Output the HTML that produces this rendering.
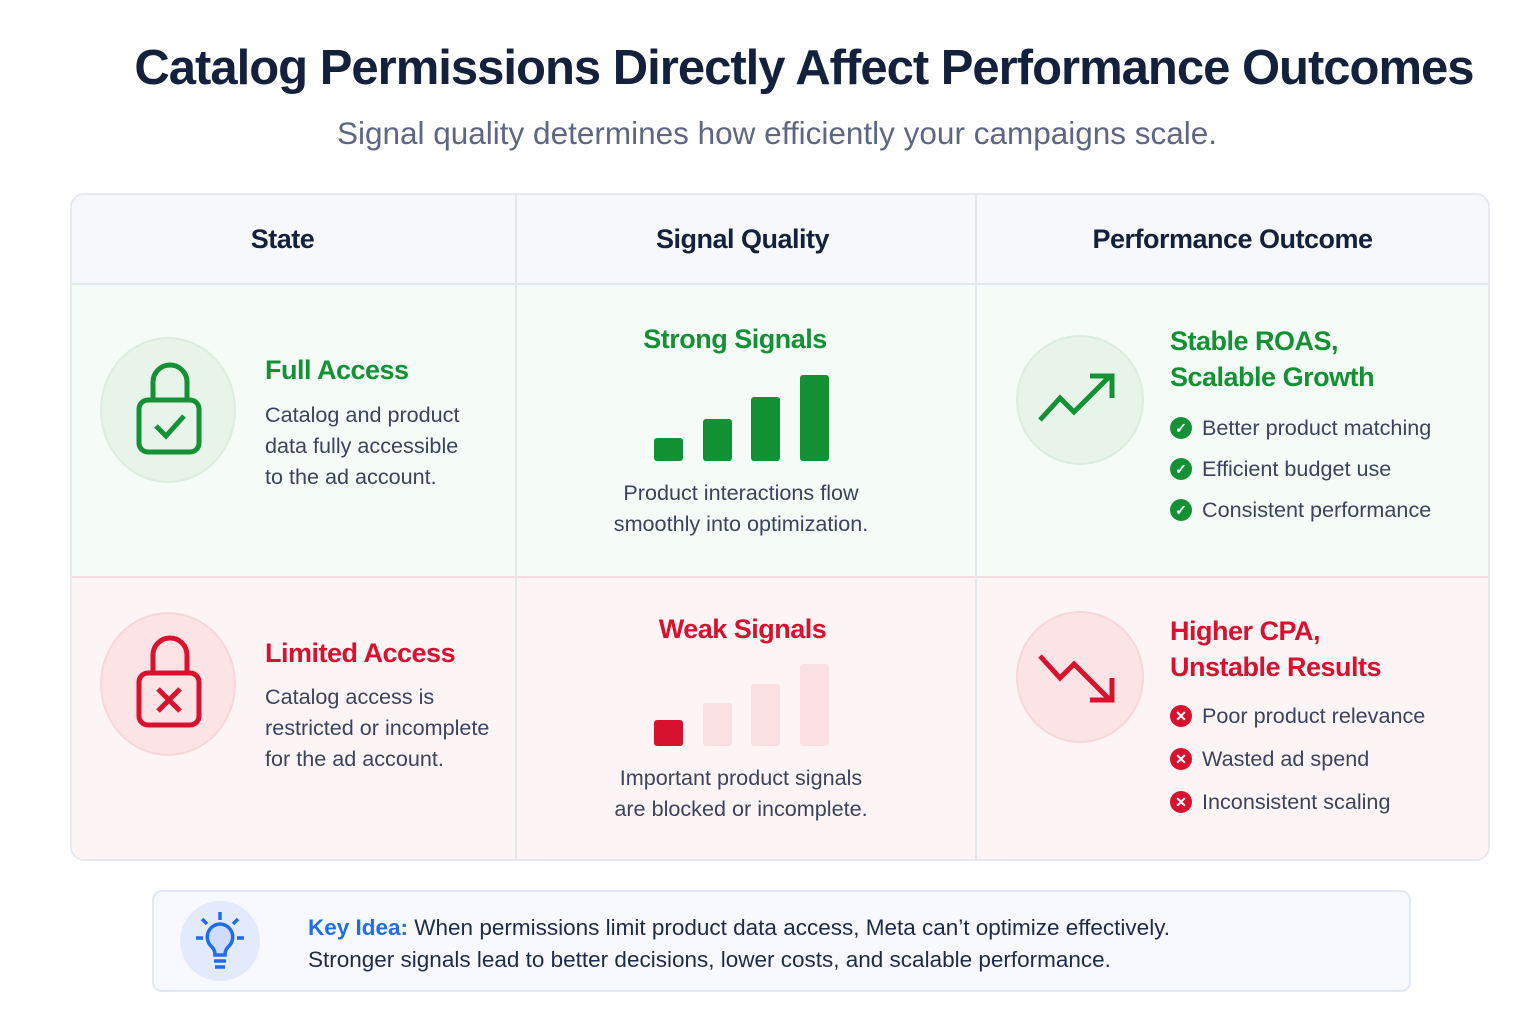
<!DOCTYPE html>
<html><head><meta charset="utf-8"><style>
*{margin:0;padding:0;box-sizing:border-box}
body{width:1536px;height:1024px;background:#fff;font-family:"Liberation Sans",sans-serif;position:relative;overflow:hidden;color:#1e2a4a}
.a{position:absolute;white-space:nowrap}
.t{font-weight:bold;letter-spacing:-1px}
.b{font-size:21.6px;line-height:31px;color:#3a4360}
.h{font-size:27px;font-weight:bold;letter-spacing:-0.5px}
.g{color:#149135}.r{color:#d8112f}
.li{font-size:21.6px;color:#3a4360;display:flex;align-items:center;gap:10px}
.dot{width:22px;height:22px;border-radius:50%;display:inline-flex;align-items:center;justify-content:center;color:#fff;font-size:14px;font-weight:bold}
</style></head><body>
<div class="a t" style="left:0;width:1608px;text-align:center;top:40px;font-size:49px;color:#14213d">Catalog Permissions Directly Affect Performance Outcomes</div>
<div class="a" style="left:0;width:1554px;text-align:center;top:115px;font-size:31.5px;color:#5d6783">Signal quality determines how efficiently your campaigns scale.</div>

<div class="a" style="left:70px;top:193px;width:1420px;height:668px;border:2px solid #e6eaf0;border-radius:14px;overflow:hidden">
 <div class="a" style="left:0;top:0;width:1420px;height:90px;background:#f6f8fb;border-bottom:2px solid #e3e8ee"></div>
 <div class="a" style="left:0;top:90px;width:1420px;height:293px;background:#f5fbf6;border-bottom:2px solid #f4dde1"></div>
 <div class="a" style="left:0;top:383px;width:1420px;height:290px;background:#fdf4f5"></div>
 <div class="a" style="left:443px;top:0;width:2px;height:668px;background:#e4e8ec"></div>
 <div class="a" style="left:903px;top:0;width:2px;height:668px;background:#e4e8ec"></div>
</div>
<div class="a" style="left:70px;width:425px;text-align:center;top:224px;font-size:27px;font-weight:bold;color:#14213d;letter-spacing:-0.5px">State</div>
<div class="a" style="left:515px;width:455px;text-align:center;top:224px;font-size:27px;font-weight:bold;color:#14213d;letter-spacing:-0.5px">Signal Quality</div>
<div class="a" style="left:975px;width:515px;text-align:center;top:224px;font-size:27px;font-weight:bold;color:#14213d;letter-spacing:-0.5px">Performance Outcome</div>

<!-- row1 -->
<div class="a" style="left:100px;top:337px;width:136px;height:146px;border-radius:50%;background:#e8f4ea;border:2px solid #dcede0"></div>
<svg class="a" style="left:130px;top:360px" width="80" height="100"><path d="M23 40V22a17 17 0 0 1 34 0v18" fill="none" stroke="#149135" stroke-width="5"/><rect x="9" y="40" width="60" height="52" rx="9" fill="none" stroke="#149135" stroke-width="5"/><path d="M26 66l10 10 18-20" fill="none" stroke="#149135" stroke-width="5"/></svg>
<div class="a h g" style="left:265px;top:355px">Full Access</div>
<div class="a b" style="left:265px;top:399px">Catalog and product<br>data fully accessible<br>to the ad account.</div>

<div class="a h g" style="left:515px;width:440px;text-align:center;top:324px">Strong Signals</div>
<div class="a" style="left:654px;top:438px;width:29px;height:23px;background:#149135;border-radius:3px"></div>
<div class="a" style="left:703px;top:419px;width:29px;height:42px;background:#149135;border-radius:3px"></div>
<div class="a" style="left:751px;top:397px;width:29px;height:64px;background:#149135;border-radius:3px"></div>
<div class="a" style="left:800px;top:375px;width:29px;height:86px;background:#149135;border-radius:3px"></div>
<div class="a b" style="left:515px;width:452px;text-align:center;top:477px">Product interactions flow<br>smoothly into optimization.</div>

<div class="a" style="left:1016px;top:335px;width:128px;height:130px;border-radius:50%;background:#e8f4ea;border:2px solid #dcede0"></div>
<svg class="a" style="left:1036px;top:370px" width="84" height="60"><path d="M4 50l20-22 14 14 36-36M54 6h22v22" fill="none" stroke="#149135" stroke-width="5"/></svg>
<div class="a h g" style="left:1170px;top:323px;line-height:36px">Stable ROAS,<br>Scalable Growth</div>
<div class="a li" style="left:1170px;top:415px"><span class="dot" style="background:#149135">✓</span>Better product matching</div>
<div class="a li" style="left:1170px;top:456px"><span class="dot" style="background:#149135">✓</span>Efficient budget use</div>
<div class="a li" style="left:1170px;top:497px"><span class="dot" style="background:#149135">✓</span>Consistent performance</div>

<!-- row2 -->
<div class="a" style="left:100px;top:612px;width:136px;height:144px;border-radius:50%;background:#fbe3e6;border:2px solid #f6d8dc"></div>
<svg class="a" style="left:130px;top:633px" width="80" height="100"><path d="M23 40V22a17 17 0 0 1 34 0v18" fill="none" stroke="#d8112f" stroke-width="5"/><rect x="9" y="40" width="60" height="52" rx="9" fill="none" stroke="#d8112f" stroke-width="5"/><path d="M28 56l22 22M50 56L28 78" fill="none" stroke="#d8112f" stroke-width="5"/></svg>
<div class="a h r" style="left:265px;top:638px">Limited Access</div>
<div class="a b" style="left:265px;top:681px">Catalog access is<br>restricted or incomplete<br>for the ad account.</div>

<div class="a h r" style="left:515px;width:455px;text-align:center;top:614px">Weak Signals</div>
<div class="a" style="left:654px;top:720px;width:29px;height:26px;background:#d8112f;border-radius:3px"></div>
<div class="a" style="left:703px;top:703px;width:29px;height:43px;background:#fbe0e3;border-radius:3px"></div>
<div class="a" style="left:751px;top:684px;width:29px;height:62px;background:#fbe0e3;border-radius:3px"></div>
<div class="a" style="left:800px;top:664px;width:29px;height:82px;background:#fbe0e3;border-radius:3px"></div>
<div class="a b" style="left:515px;width:452px;text-align:center;top:762px">Important product signals<br>are blocked or incomplete.</div>

<div class="a" style="left:1016px;top:611px;width:128px;height:132px;border-radius:50%;background:#fbe3e6;border:2px solid #f6d8dc"></div>
<svg class="a" style="left:1036px;top:648px" width="84" height="60"><path d="M4 8l20 22 14-14 36 36M54 52h22V30" fill="none" stroke="#d8112f" stroke-width="5"/></svg>
<div class="a h r" style="left:1170px;top:613px;line-height:36px">Higher CPA,<br>Unstable Results</div>
<div class="a li" style="left:1170px;top:703px"><span class="dot" style="background:#d8112f">✕</span>Poor product relevance</div>
<div class="a li" style="left:1170px;top:746px"><span class="dot" style="background:#d8112f">✕</span>Wasted ad spend</div>
<div class="a li" style="left:1170px;top:789px"><span class="dot" style="background:#d8112f">✕</span>Inconsistent scaling</div>

<!-- key idea -->
<div class="a" style="left:152px;top:890px;width:1259px;height:102px;border:2px solid #e3e8f6;border-radius:10px;background:#f8f9fe"></div>
<div class="a" style="left:180px;top:901px;width:80px;height:80px;border-radius:50%;background:#e3eafb"></div>
<svg class="a" style="left:192px;top:908px" width="56" height="66"><g stroke="#1f6cf0" stroke-width="3.5" fill="none"><path d="M28 4v8M10 11l5 5M46 11l-5 5M4 30h7M45 30h7"/><path d="M28 16a13 13 0 0 0-8 23c2 2 3 5 3 8h10c0-3 1-6 3-8a13 13 0 0 0-8-23z" fill="#cfdcfb"/><path d="M22 53h12M23 59h10"/></g></svg>
<div class="a" style="left:308px;top:912px;font-size:22.5px;line-height:32px;color:#1e2a4a"><b style="color:#1f6cf0">Key Idea:</b> When permissions limit product data access, Meta can’t optimize effectively.<br>Stronger signals lead to better decisions, lower costs, and scalable performance.</div>
</body></html>
